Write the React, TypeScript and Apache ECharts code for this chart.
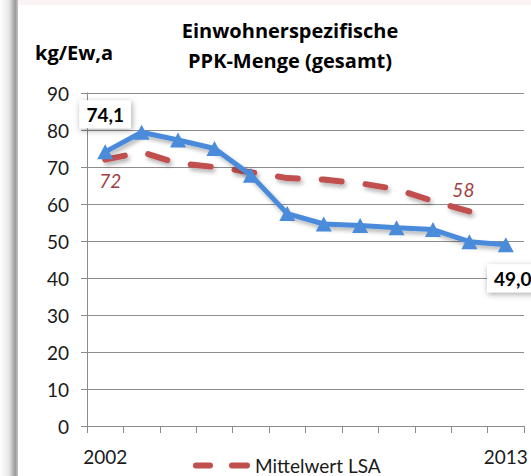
import React, { useEffect, useRef } from "react";
import * as echarts from "echarts";

const years = ["2002", "2003", "2004", "2005", "2006", "2007", "2008", "2009", "2010", "2011", "2012", "2013"];
const ppkValues = [74.1, 79.4, 77.3, 75.0, 67.8, 57.4, 54.6, 54.2, 53.6, 53.1, 49.8, 49.0];
const lsaValues: (number | null)[] = [72, 74, 71, 70, 68.6, 67, 66.6, 65.6, 64, 60.8, 58, null];
const yTicks = { min: 0, max: 90, interval: 10 };
const titleLines = ["Einwohnerspezifische", "PPK-Menge (gesamt)"];
const unitLabel = "kg/Ew,a";
const legendName = "Mittelwert LSA";

const FONT = "Lato";
const BOLD_FONT = "Open Sans";
const BLUE = "#4A8BDA";
const RED = "#C0504D";

export default function App() {
  const ref = useRef<HTMLDivElement>(null);
  useEffect(() => {
    if (!ref.current) return;
    const chart = echarts.init(ref.current, undefined, { renderer: "svg" });
    const last = ppkValues.length - 1;
    const fmt = (v: number) => v.toFixed(1).replace(".", ",");
    const boxLabel = {
      show: true,
      fontFamily: FONT,
      fontWeight: "bold",
      fontSize: 19,
      color: "#000",
      backgroundColor: "#fff",
      padding: [5, 7, 4, 7],
      shadowColor: "rgba(0,0,0,0.35)",
      shadowBlur: 6,
      shadowOffsetX: 1,
      shadowOffsetY: 2,
    };
    const ppkData = ppkValues.map((v, i) => {
      if (i === 0)
        return { value: v, label: { ...boxLabel, position: "top", distance: 16, formatter: fmt(v) } };
      if (i === last)
        return { value: v, label: { ...boxLabel, position: "bottom", distance: 12, offset: [7, 0], formatter: fmt(v) } };
      return v;
    });
    const redLabel = {
      show: true,
      fontFamily: FONT,
      fontStyle: "italic",
      fontSize: 19,
      color: "#A0413E",
    };
    let lastRed = 0;
    lsaValues.forEach((v, i) => { if (v != null) lastRed = i; });
    const lsaData = lsaValues.map((v, i) => {
      if (i === 0)
        return { value: v, label: { ...redLabel, position: "bottom", distance: 11, offset: [5, 0], formatter: String(v) } };
      if (i === lastRed)
        return { value: v, label: { ...redLabel, position: "top", distance: 12, offset: [-6, 0], formatter: String(v) } };
      return v;
    });

    chart.setOption({
      animation: false,
      backgroundColor: "#fff",
      textStyle: { fontFamily: FONT },
      grid: { left: 87, right: 7, top: 93, bottom: 50, containLabel: false },
      graphic: [
        {
          type: "rect",
          z: -10,
          shape: { x: 0, y: 0, width: 18, height: 476 },
          style: {
            fill: new echarts.graphic.LinearGradient(0, 0, 1, 0, [
              { offset: 0, color: "#ffffff" },
              { offset: 0.5, color: "#e6e6e6" },
              { offset: 0.85, color: "#9a9a9a" },
              { offset: 1, color: "#c8c8c8" },
            ]),
          },
          silent: true,
        },
        {
          type: "rect",
          z: -10,
          shape: { x: 18, y: 0, width: 513, height: 5 },
          style: { fill: "#fcf4f4" },
          silent: true,
        },
        {
          type: "text",
          x: 290,
          y: 15,
          style: {
            text: titleLines.join("\n"),
            fontFamily: BOLD_FONT,
            fontWeight: "bold",
            fontSize: 20,
            lineHeight: 30,
            fill: "#000",
            align: "center",
            verticalAlign: "top",
          },
        },
        {
          type: "text",
          x: 35,
          y: 37,
          style: {
            text: unitLabel,
            fontFamily: BOLD_FONT,
            fontWeight: "bold",
            fontSize: 20,
            lineHeight: 30,
            fill: "#000",
            verticalAlign: "top",
          },
        },
      ],
      legend: {
        left: 188,
        top: 451,
        itemWidth: 57,
        itemHeight: 6,
        itemGap: 10,
        icon: "path://M3,0 H17 A3,3 0 0 1 17,6 H3 A3,3 0 0 1 3,0 Z M39,0 H54 A3,3 0 0 1 54,6 H39 A3,3 0 0 1 39,0 Z",
        data: [{ name: legendName, itemStyle: { color: RED, opacity: 1 } }],
        textStyle: { fontFamily: FONT, fontSize: 19, color: "#1a1a1a", padding: [0, 0, 0, 0] },
      },
      xAxis: {
        type: "category",
        data: years,
        boundaryGap: true,
        axisLine: { lineStyle: { color: "#8c8c8c", width: 1 } },
        axisTick: { show: true, interval: 0, length: 7, lineStyle: { color: "#8c8c8c" } },
        axisLabel: {
          interval: (i: number) => i === 0 || i === years.length - 1,
          fontFamily: FONT,
          fontSize: 19,
          color: "#1a1a1a",
          margin: 21,
        },
        splitLine: { show: false },
      },
      yAxis: {
        type: "value",
        min: yTicks.min,
        max: yTicks.max,
        interval: yTicks.interval,
        axisLine: { show: true, lineStyle: { color: "#8c8c8c", width: 1 } },
        axisTick: { show: true, length: 6, lineStyle: { color: "#8c8c8c" } },
        axisLabel: { fontFamily: FONT, fontSize: 19, color: "#1a1a1a", margin: 18 },
        splitLine: { show: true, lineStyle: { color: "#8c8c8c", width: 1 } },
      },
      series: [
        {
          name: "PPK",
          type: "line",
          data: ppkData,
          symbol: "triangle",
          symbolSize: [16, 15],
          z: 3,
          itemStyle: { color: BLUE },
          lineStyle: {
            color: BLUE,
            width: 5,
            shadowColor: "rgba(0,0,0,0.3)",
            shadowBlur: 4,
            shadowOffsetX: 2,
            shadowOffsetY: 3,
          },
          label: { show: false },
        },
        {
          name: legendName,
          type: "line",
          data: lsaData,
          symbol: "circle",
          symbolSize: 1,
          showSymbol: true,
          z: 2,
          itemStyle: { color: "rgba(0,0,0,0)" },
          lineStyle: {
            color: RED,
            width: 6,
            type: [20, 24],
            cap: "round",
            shadowColor: "rgba(0,0,0,0.3)",
            shadowBlur: 4,
            shadowOffsetX: 2,
            shadowOffsetY: 3,
          },
          label: { show: false },
        },
      ],
    });
    return () => chart.dispose();
  }, []);
  return <div ref={ref} style={{ position: "fixed", left: 0, top: 0, width: 531, height: 476 }} />;
}
